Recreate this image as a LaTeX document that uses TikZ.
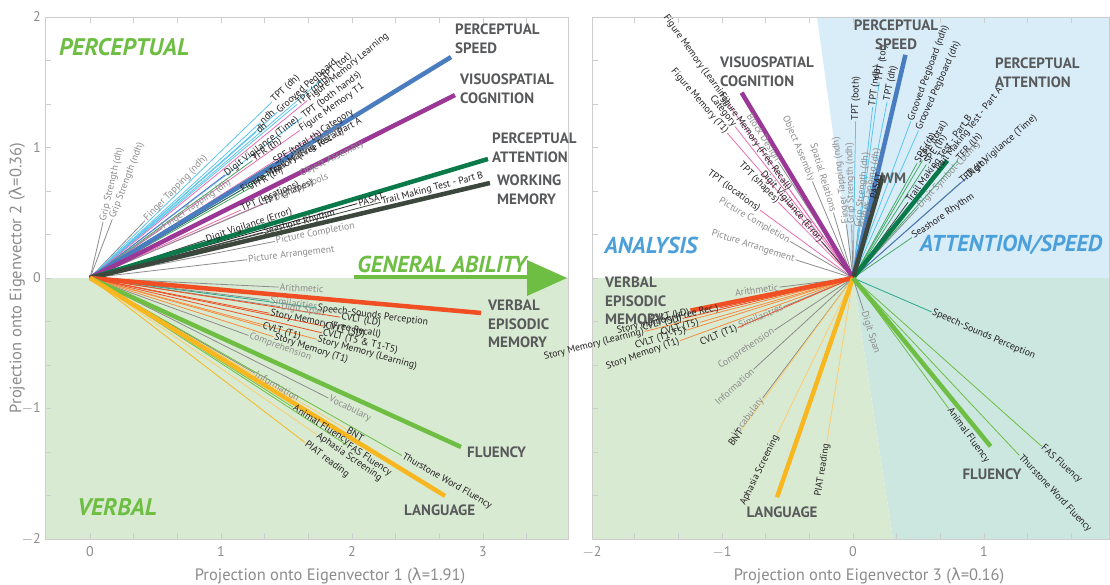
\documentclass[tikz,border=0pt]{standalone}
\usepackage{fontspec}
\setmainfont{PT Sans}
\newfontfamily\gk{DejaVu Sans}
\pgfdeclarelayer{bg}
\pgfdeclarelayer{lines}
\pgfsetlayers{bg,lines,main}
\definecolor{bggreen}{RGB}{217,234,211}
\definecolor{bgblue}{RGB}{217,237,248}
\definecolor{bgteal}{RGB}{203,231,223}
\definecolor{titgreen}{RGB}{110,190,68}
\definecolor{titblue}{RGB}{75,160,218}
\definecolor{labgray}{RGB}{88,89,91}
\definecolor{txtgray}{RGB}{140,140,140}
\definecolor{txtblk}{RGB}{35,31,32}
\definecolor{axgray}{RGB}{205,205,205}
\definecolor{cyn}{RGB}{92,197,238}
\definecolor{pnk}{RGB}{232,110,180}
\definecolor{prp}{RGB}{155,55,150}
\definecolor{blu}{RGB}{74,125,192}
\definecolor{dgrn}{RGB}{10,122,75}
\definecolor{mgrn}{RGB}{70,170,100}
\definecolor{wmc}{RGB}{60,72,62}
\definecolor{grl}{RGB}{140,140,140}
\definecolor{org}{RGB}{240,78,35}
\definecolor{orl}{RGB}{246,140,60}
\definecolor{yel}{RGB}{248,183,30}
\definecolor{yll}{RGB}{250,205,110}
\definecolor{flg}{RGB}{110,190,68}
\definecolor{tea}{RGB}{40,168,140}
\definecolor{slb}{RGB}{90,110,200}
\definecolor{dkl}{RGB}{60,60,60}
\tikzset{
  tline/.style={line width=0.8pt},
  fline/.style={line width=4.5pt},
  tlab/.style={font=\fontsize{9.8}{10}\selectfont, inner sep=1pt},
  flab/.style={font=\fontsize{15}{18.5}\selectfont\bfseries, text=labgray, inner sep=0pt, align=left},
  bigtit/.style={font=\fontsize{23}{26}\selectfont\bfseries\itshape, inner sep=0pt},
  ticklab/.style={font=\fontsize{14}{15}\selectfont, text=txtgray, inner sep=0pt},
  axlab/.style={font=\fontsize{16.5}{17}\selectfont, text=txtgray, inner sep=0pt},
  tickmark/.style={axgray, line width=0.7pt},
}
\newcommand\tv[6][]{%
  \begin{pgfonlayer}{lines}\draw[tline,#4] (0,0) -- (#2,#3);\end{pgfonlayer}
  \path (0,0) -- (#2,#3) node[pos=1,sloped,tlab,text=#5,anchor=west,#1] {#6};}
\newcommand\fv[3]{\begin{pgfonlayer}{lines}\draw[fline,#3] (0,0) -- (#1,#2);\end{pgfonlayer}}
\begin{document}
\begin{tikzpicture}[x=1pt,y=1pt]
\useasboundingbox (0,0) rectangle (1110,585);
\begin{pgfonlayer}{bg}
\fill[white] (0,0) rectangle (1110,585);
\fill[bggreen] (45,46) rectangle (568,307);
\fill[bgblue] (817,568) -- (1109,568) -- (1109,307) -- (853,307) -- cycle;
\fill[bgteal] (853,307) -- (1109,307) -- (1109,46) -- (893,46) -- cycle;
\fill[bggreen] (592,307) -- (853,307) -- (893,46) -- (592,46) -- cycle;
\draw[axgray, line width=0.9pt] (45,46) rectangle (568,568);
\draw[axgray, line width=0.9pt] (592,46) rectangle (1109,568);
\foreach \k in {0,...,10} {
  \draw[tickmark] ({90+131*\k/3},46) -- ++(0,6);
  \draw[tickmark] ({90+131*\k/3},568) -- ++(0,-6);}
\foreach \k in {-5,...,5} {
  \draw[tickmark] ({853+131*\k/3},46) -- ++(0,6);
  \draw[tickmark] ({853+131*\k/3},568) -- ++(0,-6);}
\foreach \j in {-6,...,6} {
  \draw[tickmark] (45,{307+130.5*\j/3}) -- ++(6,0);
  \draw[tickmark] (592,{307+130.5*\j/3}) -- ++(6,0);}
\end{pgfonlayer}

% tick labels
\node[ticklab, anchor=east] (ty2) at (41,568) {2};
\node[ticklab, anchor=east] (ty1) at (41,437.5) {1};
\node[ticklab, anchor=east] (ty0) at (41,307) {0};
\node[ticklab, anchor=east] (tym1) at (41,176.5) {$-$1};
\node[ticklab, anchor=east] (tym2) at (41,46) {$-$2};
\node[ticklab] (tx0) at (90,33) {0};
\node[ticklab] (tx1) at (221,33) {1};
\node[ticklab] (tx2) at (352,33) {2};
\node[ticklab] (tx3) at (483,33) {3};
\node[ticklab] (rxm2) at (592,33) {$-$2};
\node[ticklab] (rxm1) at (722,33) {$-$1};
\node[ticklab] (rx0) at (853,33) {0};
\node[ticklab] (rx1) at (984,33) {1};
\node[axlab] (axl1) at (330,9) {Projection onto Eigenvector 1 ({\gk λ}=1.91)};
\node[axlab] (axl3) at (869,9) {Projection onto Eigenvector 3 ({\gk λ}=0.16)};
\node[axlab, rotate=90] (axl2) at (17,307) {Projection onto Eigenvector 2 ({\gk λ}=0.36)};

% big titles
\node[bigtit, text=titgreen, font=\fontsize{24}{26}\selectfont\bfseries\itshape] (tperc) at (124,538) {PERCEPTUAL};
\node[bigtit, text=titgreen, font=\fontsize{24}{26}\selectfont\bfseries\itshape] (tverb) at (117,78) {VERBAL};
\node[bigtit, text=titgreen] (tgen) at (442,321) {GENERAL ABILITY};
\draw[titgreen, line width=3.5pt] (354,308) -- (530,308);
\fill[titgreen] (527,325) -- (567,307) -- (527,289) -- cycle;
\node[bigtit, text=titblue] (tana) at (651,340) {ANALYSIS};
\node[bigtit, text=titblue] (tatt) at (1011,340) {ATTENTION/SPEED};

% ================= LEFT PANEL =================
\begin{scope}[shift={(90,307)}, x=131pt, y=130.5pt]
\tv{0.10}{0.43}{grl}{txtgray}{Grip Strength (dh)}
\tv{0.17}{0.45}{grl}{txtgray}{Grip Strength (ndh)}
\tv{0.42}{0.44}{grl}{txtgray}{Finger Tapping (ndh)}
\tv{0.55}{0.38}{grl}{txtgray}{Finger Tapping (dh)}
\tv{1.39}{1.35}{cyn}{txtblk}{TPT (dh)}
\tv{1.30}{1.19}{cyn}{txtblk}{ndh}
\tv{1.43}{1.27}{cyn}{txtblk}{Grooved Pegboard}
\tv{1.27}{1.12}{cyn}{txtblk}{dh}
\tv{1.58}{1.33}{cyn}{txtblk}{TPT (ndh)}
\tv{1.77}{1.52}{cyn}{txtblk}{TPT (tot)}
\tv{1.62}{1.23}{cyn}{txtblk}{TPT (both hands)}
\tv{1.66}{1.36}{pnk}{txtblk}{Figure Memory Learning}
\tv{1.60}{1.13}{pnk}{txtblk}{Figure Memory T1}
\tv{1.76}{1.12}{pnk}{txtblk}{Category}
\tv{1.03}{0.79}{slb}{txtblk}{Digit Vigilance (Time)}
\tv{1.24}{0.90}{mgrn}{txtblk}{TFR (th)}
\tv{1.40}{0.88}{mgrn}{txtblk}{SPE (total th)}
\tv{1.15}{0.67}{pnk}{txtblk}{Figure Memory (Free Recall)}
\tv{1.24}{0.70}{mgrn}{txtblk}{TFR (th)}
\tv{1.37}{0.80}{dgrn}{txtblk}{Trail Making Test - Part A}
\tv{1.55}{0.93}{grl}{txtgray}{Block Design}
\tv{1.60}{0.79}{grl}{txtgray}{Object Assembly}
\tv{1.15}{0.52}{pnk}{txtblk}{TPT (locations)}
\tv{1.32}{0.57}{pnk}{txtblk}{TPT (shapes)}
\tv{1.40}{0.60}{grl}{txtgray}{Digit Symbols}
\tv{0.88}{0.29}{dkl}{txtblk}{Digit Vigilance (Error)}
\tv{2.04}{0.57}{txtblk}{txtblk}{PASAT}
\tv{2.22}{0.58}{wmc}{txtblk}{Trail Making Test - Part B}
\tv{1.32}{0.35}{dkl}{txtblk}{Seashore Rhythm}
\tv{1.41}{0.28}{grl}{txtgray}{Picture Completion}
\tv{1.20}{0.14}{grl}{txtgray}{Picture Arrangement}
% lower
\tv{1.44}{-0.07}{grl}{txtgray}{Arithmetic}
\tv{1.37}{-0.17}{grl}{txtgray}{Similarities}
\tv{1.45}{-0.22}{grl}{txtgray}{Digit Span}
\tv{1.73}{-0.23}{tea}{txtblk}{Speech-Sounds Perception}
\tv{1.91}{-0.30}{org}{txtblk}{CVLT (LD)}
\tv{1.37}{-0.27}{org}{txtblk}{Story Memory (Free Recall)}
\tv{1.79}{-0.37}{org}{txtblk}{CVLT (SD)}
\tv{1.77}{-0.42}{org}{txtblk}{CVLT (T5 \& T1-T5)}
\tv{1.73}{-0.47}{orl}{txtblk}{Story Memory (Learning)}
\tv{1.31}{-0.37}{orl}{txtblk}{CVLT (T1)}
\tv{1.40}{-0.45}{orl}{txtblk}{Story Memory (T1)}
\tv{1.21}{-0.44}{grl}{txtgray}{Comprehension}
\tv{1.26}{-0.73}{grl}{txtgray}{Information}
\tv{1.82}{-0.92}{grl}{txtgray}{Vocabulary}
\tv{1.55}{-0.99}{flg}{txtblk}{Animal Fluency}
\tv{1.96}{-1.16}{yll}{txtblk}{BNT}
\tv{1.96}{-1.28}{flg}{txtblk}{FAS Fluency}
\tv{1.73}{-1.20}{yll}{txtblk}{Aphasia Screening}
\tv{1.64}{-1.26}{yel}{txtblk}{PIAT reading}
\tv{2.38}{-1.36}{flg}{txtblk}{Thurstone Word Fluency}
% factors
\fv{2.756}{1.693}{blu}
\fv{2.786}{1.402}{prp}
\fv{3.038}{0.912}{dgrn}
\fv{3.053}{0.728}{wmc}
\fv{2.985}{-0.268}{org}
\fv{2.832}{-1.295}{flg}
\fv{2.710}{-1.670}{yel}
\end{scope}

\node[flab, anchor=north west] (lps) at (455,561) {PERCEPTUAL\\SPEED};
\node[flab, anchor=north west] (lvc) at (460,511) {VISUOSPATIAL\\COGNITION};
\node[flab, anchor=north west] (lpa) at (492,452) {PERCEPTUAL\\ATTENTION};
\node[flab, anchor=north west] (lwm) at (497,410) {WORKING\\MEMORY};
\node[flab, anchor=north west] (lvem) at (488,285) {VERBAL\\EPISODIC\\MEMORY};
\node[flab, anchor=west] (lfl) at (467,133) {FLUENCY};
\node[flab, anchor=west] (llang) at (404,75) {LANGUAGE};

% ================= RIGHT PANEL =================
\begin{scope}[shift={(853,307)}, x=131pt, y=130.5pt]
\tv[anchor=east]{-0.95}{1.33}{pnk}{txtblk}{Figure Memory (Learning)}
\tv[anchor=east]{-0.90}{1.16}{pnk}{txtblk}{Category}
\tv[anchor=east]{-0.96}{1.11}{pnk}{txtblk}{Figure Memory (T1)}
\tv[anchor=east]{-0.48}{0.67}{pnk}{txtblk}{Figure Memory (Free Recall)}
\tv[anchor=east]{-0.57}{0.89}{grl}{txtgray}{Block Design}
\tv[anchor=east]{-0.31}{0.74}{grl}{txtgray}{Object Assembly}
\tv[anchor=east]{-0.15}{0.50}{grl}{txtgray}{Spatial Relations}
\tv[anchor=east]{-0.57}{0.58}{pnk}{txtblk}{TPT (shapes)}
\tv[anchor=east]{-0.24}{0.28}{dkl}{txtblk}{Digit Vigilance (Error)}
\tv[anchor=east]{-0.71}{0.52}{pnk}{txtblk}{TPT (locations)}
\tv[anchor=east]{-0.48}{0.28}{grl}{txtgray}{Picture Completion}
\tv[anchor=east]{-0.44}{0.14}{grl}{txtgray}{Picture Arrangement}
\tv[allow upside down]{-0.05}{0.41}{grl}{txtgray}{Finger Tapping (ndh)}
\tv[allow upside down]{-0.01}{0.41}{grl}{txtgray}{Grip Strength (ndh)}
\tv{0.04}{0.38}{grl}{txtgray}{Grip Strength (dh)}
\tv{0.07}{0.37}{grl}{txtgray}{Finger Tapping (dh)}
\tv{0.02}{1.20}{cyn}{txtblk}{TPT (both)}
\tv{0.15}{1.31}{cyn}{txtblk}{TPT (ndh)}
\tv{0.20}{1.50}{cyn}{txtblk}{TPT (tot)}
\tv{0.26}{1.35}{cyn}{txtblk}{TPT (dh)}
\tv{0.44}{1.20}{cyn}{txtblk}{Grooved Pegboard (ndh)}
\tv{0.50}{1.13}{cyn}{txtblk}{Grooved Pegboard (dh)}
\tv{0.49}{0.88}{mgrn}{txtblk}{SPE (rh)}
\tv{0.53}{0.90}{mgrn}{txtblk}{SPE (total)}
\tv{0.56}{0.87}{mgrn}{txtblk}{SPE (lh)}
\tv{0.42}{0.58}{wmc}{txtblk}{Trail Making Test - Part B}
\tv{0.63}{0.81}{dgrn}{txtblk}{Trail Making Test - Part A}
\tv{0.80}{0.90}{mgrn}{txtblk}{TFR (lh)}
\tv{0.82}{0.73}{mgrn}{txtblk}{TFR (rh)}
\tv{0.50}{0.54}{grl}{txtgray}{Digit Symbol-Coding}
\tv{0.87}{0.77}{slb}{txtblk}{Digit Vigilance (Time)}
\tv{0.45}{0.31}{mgrn}{txtblk}{Seashore Rhythm}
\tv{0.15}{0.60}{txtblk}{txtblk}{PASAT}
\tv{0.60}{-0.26}{tea}{txtblk}{Speech-Sounds Perception}
\tv{0.08}{-0.25}{grl}{txtgray}{Digit Span}
\tv{0.73}{-1.00}{flg}{txtblk}{Animal Fluency}
\tv{1.44}{-1.29}{flg}{txtblk}{FAS Fluency}
\tv{1.27}{-1.36}{flg}{txtblk}{Thurstone Word Fluency}
\tv[anchor=east]{-0.56}{-0.07}{grl}{txtgray}{Arithmetic}
\tv[anchor=east]{-0.53}{-0.22}{grl}{txtgray}{Similarities}
\tv[anchor=east]{-0.88}{-0.38}{org}{txtblk}{CVLT (T1)}
\tv[anchor=east]{-0.60}{-0.40}{grl}{txtgray}{Comprehension}
\tv[anchor=east]{-0.76}{-0.70}{grl}{txtgray}{Information}
\tv[anchor=east]{-0.69}{-0.92}{grl}{txtgray}{Vocabulary}
\tv[anchor=east]{-0.85}{-1.16}{yll}{txtblk}{BNT}
\tv[anchor=east]{-0.58}{-1.20}{yll}{txtblk}{Aphasia Screening}
\tv[anchor=east]{-0.20}{-1.26}{yll}{txtblk}{PIAT reading}
\tv[anchor=east]{-1.24}{-0.26}{org}{txtblk}{CVLT (LD)}
\tv[anchor=east]{-1.02}{-0.23}{org}{txtblk}{Story Memory (Free Rec.)}
\tv[anchor=east]{-1.30}{-0.31}{org}{txtblk}{CVLT (SD)}
\tv[anchor=east]{-1.17}{-0.34}{orl}{txtblk}{CVLT (T5)}
\tv[anchor=east]{-1.27}{-0.40}{orl}{txtblk}{CVLT (T1-T5)}
\tv[anchor=east]{-1.32}{-0.48}{orl}{txtblk}{Story Memory (T1)}
\tv[anchor=east]{-1.59}{-0.41}{orl}{txtblk}{Story Memory (Learning)}
% factors
\fv{0.40}{1.71}{blu}
\fv{-0.85}{1.42}{prp}
\fv{0.72}{0.90}{dgrn}
\fv{0.23}{0.79}{wmc}
\fv{-1.24}{-0.25}{org}
\fv{-0.58}{-1.68}{yel}
\fv{1.05}{-1.29}{flg}
\end{scope}

\node[flab, anchor=north, align=center] (rps) at (896,565) {PERCEPTUAL\\SPEED};
\node[flab, anchor=north west] (rvc) at (720,528) {VISUOSPATIAL\\COGNITION};
\node[flab, anchor=north west] (rpa) at (995,527) {PERCEPTUAL\\ATTENTION};
\node[flab, anchor=west] (rwm) at (881,407) {WM};
\node[flab, anchor=north west] (rvem) at (605,308) {VERBAL\\EPISODIC\\MEMORY};
\node[flab] (rfl) at (992,111) {FLUENCY};
\node[flab] (rlang) at (782,73) {LANGUAGE};
\end{tikzpicture}
\end{document}
